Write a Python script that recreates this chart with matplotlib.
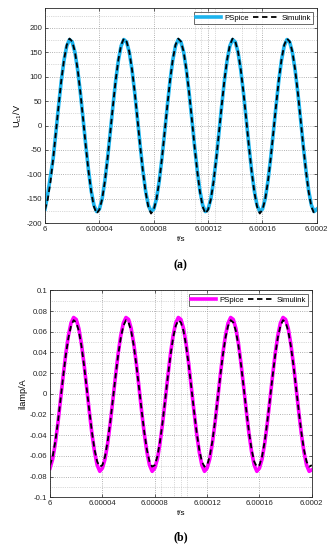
import numpy as np
import matplotlib
matplotlib.use("Agg")
import matplotlib.pyplot as plt
from matplotlib.ticker import MultipleLocator, FixedLocator, FuncFormatter

plt.rcParams['font.family'] = ['Liberation Sans', 'DejaVu Sans']

# time axis in microseconds after t = 6 s (step 2 us)
t_us = list(range(0, 201, 2))
xtick_vals = [6, 6.00004, 6.00008, 6.00012, 6.00016, 6.0002]
xtick_labels = ['6', '6.00004', '6.00008', '6.00012', '6.00016', '6.0002']

uc1_pspice = [
    -171, -140, -104, -67, -14, 41, 92, 134, 163, 176, 171, 150, 114, 67, 14, -41, -92, -134, -163, -176,
    -171, -150, -114, -67, -14, 41, 92, 134, 163, 176, 171, 150, 114, 67, 14, -41, -92, -134, -163, -176,
    -171, -150, -114, -67, -14, 41, 92, 134, 163, 176, 171, 150, 114, 67, 14, -41, -92, -134, -163, -176,
    -171, -150, -114, -67, -14, 41, 92, 134, 163, 176, 171, 150, 114, 67, 14, -41, -92, -134, -163, -176,
    -171, -150, -114, -67, -14, 41, 92, 134, 163, 176, 171, 150, 114, 67, 14, -41, -92, -134, -163, -176,
    -171,
]
uc1_simulink = [
    -172, -151, -115, -68, -14, 41, 93, 135, 165, 178, 172, 151, 115, 68, 14, -42, -93, -136, -166, -180,
    -172, -151, -115, -68, -14, 41, 93, 135, 165, 178, 172, 151, 115, 68, 14, -42, -93, -136, -166, -180,
    -172, -151, -115, -68, -14, 41, 93, 135, 165, 178, 172, 151, 115, 68, 14, -42, -93, -136, -166, -180,
    -172, -151, -115, -68, -14, 41, 93, 135, 165, 178, 172, 151, 115, 68, 14, -42, -93, -136, -166, -180,
    -172, -151, -115, -68, -14, 41, 93, 135, 165, 178, 172, 151, 115, 68, 14, -42, -93, -136, -166, -180,
    -180,
]
ilamp_pspice = [
    -0.0719, -0.0631, -0.0480, -0.0283, -0.0058, 0.0172, 0.0386, 0.0562, 0.0684, 0.0738, 0.0719, 0.0631, 0.0480, 0.0283, 0.0058, -0.0172, -0.0386, -0.0562, -0.0690, -0.0750,
    -0.0719, -0.0631, -0.0480, -0.0283, -0.0058, 0.0172, 0.0386, 0.0562, 0.0684, 0.0738, 0.0719, 0.0631, 0.0480, 0.0283, 0.0058, -0.0172, -0.0386, -0.0562, -0.0690, -0.0750,
    -0.0719, -0.0631, -0.0480, -0.0283, -0.0058, 0.0172, 0.0386, 0.0562, 0.0684, 0.0738, 0.0719, 0.0631, 0.0480, 0.0283, 0.0058, -0.0172, -0.0386, -0.0562, -0.0690, -0.0750,
    -0.0719, -0.0631, -0.0480, -0.0283, -0.0058, 0.0172, 0.0386, 0.0562, 0.0684, 0.0738, 0.0719, 0.0631, 0.0480, 0.0283, 0.0058, -0.0172, -0.0386, -0.0562, -0.0690, -0.0750,
    -0.0719, -0.0631, -0.0480, -0.0283, -0.0058, 0.0172, 0.0386, 0.0562, 0.0684, 0.0738, 0.0719, 0.0631, 0.0480, 0.0283, 0.0058, -0.0172, -0.0386, -0.0562, -0.0690, -0.0750,
    -0.0735,
]
ilamp_simulink = [
    -0.0690, -0.0606, -0.0461, -0.0272, -0.0055, 0.0165, 0.0371, 0.0540, 0.0656, 0.0712, 0.0690, 0.0606, 0.0461, 0.0272, 0.0055, -0.0165, -0.0371, -0.0540, -0.0656, -0.0705,
    -0.0690, -0.0606, -0.0461, -0.0272, -0.0055, 0.0165, 0.0371, 0.0540, 0.0656, 0.0712, 0.0690, 0.0606, 0.0461, 0.0272, 0.0055, -0.0165, -0.0371, -0.0540, -0.0656, -0.0705,
    -0.0690, -0.0606, -0.0461, -0.0272, -0.0055, 0.0165, 0.0371, 0.0540, 0.0656, 0.0712, 0.0690, 0.0606, 0.0461, 0.0272, 0.0055, -0.0165, -0.0371, -0.0540, -0.0656, -0.0705,
    -0.0690, -0.0606, -0.0461, -0.0272, -0.0055, 0.0165, 0.0371, 0.0540, 0.0656, 0.0712, 0.0690, 0.0606, 0.0461, 0.0272, 0.0055, -0.0165, -0.0371, -0.0540, -0.0656, -0.0705,
    -0.0690, -0.0606, -0.0461, -0.0272, -0.0055, 0.0165, 0.0371, 0.0540, 0.0656, 0.0712, 0.0690, 0.0606, 0.0461, 0.0272, 0.0055, -0.0165, -0.0371, -0.0540, -0.0656, -0.0705,
    -0.0690,
]

t = 6 + np.array(t_us) * 1e-6

fig = plt.figure(figsize=(3.36, 5.5), dpi=100)
ax1 = fig.add_axes([0.134, 0.594, 0.809, 0.391])
ax2 = fig.add_axes([0.149, 0.096, 0.779, 0.376])

fs = 5.6
grid_kw = dict(color='#9a9a9a', linestyle=':', linewidth=0.6)


def style(ax, ylim, ymajor, yminor, xminor):
    ax.set_xlim(6, 6.0002)
    ax.set_ylim(*ylim)
    ax.set_xticks(xtick_vals)
    ax.set_xticklabels(xtick_labels)
    ax.yaxis.set_major_locator(MultipleLocator(ymajor))
    ax.yaxis.set_minor_locator(MultipleLocator(yminor))
    ax.xaxis.set_minor_locator(FixedLocator(xminor))
    ax.grid(True, which='major', **grid_kw)
    ax.grid(True, which='minor', color='#b5b5b5', linestyle=':', linewidth=0.5)
    ax.tick_params(which='both', direction='in', top=True, right=True, labelsize=fs,
                   colors='#262626', length=2, width=0.5, pad=2)
    ax.tick_params(which='minor', length=0)
    for s in ax.spines.values():
        s.set_color('#262626')
        s.set_linewidth(0.6)


def fmt(v, p):
    v = round(v, 3)
    if abs(v) < 1e-9:
        return '0'
    return '%g' % v


style(ax1, (-200, 240), 50, 25, [6.00008, 6.00011, 6.000115, 6.000125, 6.000145, 6.000155])
ax1.yaxis.set_major_formatter(FuncFormatter(fmt))
ax1.plot(t, uc1_pspice, color='#1cb4ee', lw=2.6, label='PSpice')
ax1.plot(t, uc1_simulink, color='black', lw=1.3, ls=(0, (3, 2)), label='Simulink')
ax1.set_xlabel('t/s', fontsize=fs + 0.3, labelpad=2)
ax1.set_ylabel('U$_{\\mathregular{c1}}$/V', fontsize=fs + 1, labelpad=2)
leg1 = ax1.legend(loc='upper right', fontsize=fs, ncol=2, frameon=True, fancybox=False,
                  edgecolor='#262626', handlelength=3.2, columnspacing=0.6, handletextpad=0.4,
                  borderpad=0.3, borderaxespad=0.5)
leg1.get_frame().set_linewidth(0.6)

style(ax2, (-0.1, 0.1), 0.02, 0.01, [6.00008, 6.000085, 6.000095, 6.0001, 6.000105])
ax2.yaxis.set_major_formatter(FuncFormatter(fmt))
ax2.plot(t, ilamp_pspice, color='#ff00ff', lw=2.6, label='PSpice')
ax2.plot(t, ilamp_simulink, color='black', lw=1.3, ls=(0, (3, 2)), label='Simulink')
ax2.set_xlabel('t/s', fontsize=fs + 0.3, labelpad=2)
ax2.set_ylabel('ilamp/A', fontsize=fs + 1, labelpad=2)
leg2 = ax2.legend(loc='upper right', fontsize=fs, ncol=2, frameon=True, fancybox=False,
                  edgecolor='#262626', handlelength=3.2, columnspacing=0.6, handletextpad=0.4,
                  borderpad=0.3, borderaxespad=0.5)
leg2.get_frame().set_linewidth(0.6)

fig.text(0.538, 1 - 265 / 550, '(a)', ha='center', va='center', fontsize=8.5,
         fontweight='bold', family=['Liberation Serif', 'DejaVu Serif'])
fig.text(0.538, 1 - 537 / 550, '(b)', ha='center', va='center', fontsize=8.5,
         fontweight='bold', family=['Liberation Serif', 'DejaVu Serif'])

fig.savefig('out.png', dpi=100)
